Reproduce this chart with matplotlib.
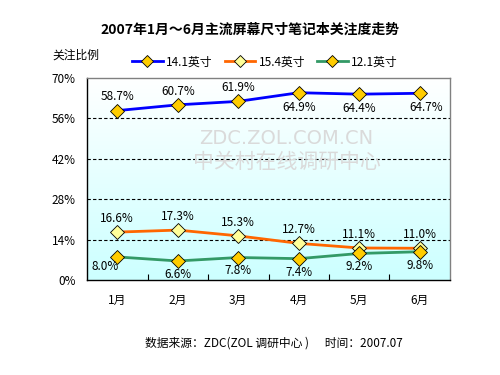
import numpy as np
import matplotlib
matplotlib.use("Agg")
import matplotlib.pyplot as plt
from matplotlib.lines import Line2D

plt.rcParams['font.family'] = ['Noto Sans CJK SC', 'DejaVu Sans']

months = ['1月', '2月', '3月', '4月', '5月', '6月']
s141 = [58.7, 60.7, 61.9, 64.9, 64.4, 64.7]
s154 = [16.6, 17.3, 15.3, 12.7, 11.1, 11.0]
s121 = [8.0, 6.6, 7.8, 7.4, 9.2, 9.8]
series_names = ['14.1英寸', '15.4英寸', '12.1英寸']
yticks = [0, 14, 28, 42, 56, 70]

fig = plt.figure(figsize=(5, 3.75), dpi=100)
fig.patch.set_facecolor('white')
ax = fig.add_axes([0.174, 0.2533, 0.726, 0.5387])

x = np.arange(len(months))
ax.set_xlim(-0.5, 5.5)
ax.set_ylim(0, 70)

# gradient background
grad = np.linspace(0, 1, 256).reshape(-1, 1)
top = np.array([1.0, 1.0, 1.0])
bot = np.array([0.80, 1.0, 1.0])
img = top[None, None, :] * (1 - grad[:, :, None]) + bot[None, None, :] * grad[:, :, None]
ax.imshow(img, extent=[0, 1, 0, 1], transform=ax.transAxes, aspect='auto', zorder=0)

for v in yticks[1:-1]:
    ax.axhline(v, color='black', lw=0.8, ls=(0, (3, 2)), zorder=1)

# watermark
ax.text(0.55, 0.70, 'ZDC.ZOL.COM.CN', transform=ax.transAxes, ha='center', va='center',
        fontsize=14, color='#dadada', zorder=1, family=['DejaVu Sans'])
ax.text(0.55, 0.585, '中关村在线调研中心', transform=ax.transAxes, ha='center', va='center',
        fontsize=15, color='#dadada', zorder=1)

colors = ['#0000ff', '#ff6600', '#339966']
mfc = ['#ffcc00', '#ffff99', '#ffcc00']
data = [s141, s154, s121]
for d, c, f in zip(data, colors, mfc):
    ax.plot(x, d, color=c, lw=2.0, zorder=3, marker='D', markersize=7,
            markerfacecolor=f, markeredgecolor='black', markeredgewidth=0.6)

fs = 8.5
for i, v in enumerate(s141):
    if i < 3:
        ax.text(x[i], v + 2.5, f'{v:.1f}%', ha='center', va='bottom', fontsize=fs, zorder=4)
    else:
        ax.text(x[i] + (0.1 if i == 5 else 0), v - 2.8, f'{v:.1f}%', ha='center', va='top', fontsize=fs, zorder=4)
for i, v in enumerate(s154):
    ax.text(x[i], v + 2.5, f'{v:.1f}%', ha='center', va='bottom', fontsize=fs, zorder=4)
for i, v in enumerate(s121):
    dx = -0.2 if i == 0 else 0.0
    dy = -1.2 if i == 0 else -2.4
    ax.text(x[i] + dx, v + dy, f'{v:.1f}%', ha='center', va='top', fontsize=fs, zorder=4)

ax.set_yticks(yticks)
ax.set_yticklabels([f'{v}%' for v in yticks], fontsize=fs)
ax.set_xticks(x)
ax.set_xticklabels(months, fontsize=fs)
ax.tick_params(axis='x', which='major', length=0, pad=10)
ax.set_xticks(np.arange(0.5, 5.5, 1.0), minor=True)
ax.tick_params(axis='x', which='minor', direction='in', length=4, width=0.8)
ax.tick_params(axis='y', length=0, pad=8)

for s in ['left', 'bottom']:
    ax.spines[s].set_color('black')
    ax.spines[s].set_linewidth(1.0)
for s in ['top', 'right']:
    ax.spines[s].set_color('#808080')
    ax.spines[s].set_linewidth(1.0)

fig.text(0.5, 0.92, '2007年1月～6月主流屏幕尺寸笔记本关注度走势', ha='center', va='center',
         fontsize=10, fontweight='bold')
fig.text(0.104, 0.853, '关注比例', ha='left', va='center', fontsize=fs)

handles = [Line2D([0], [0], color=c, lw=2.0, marker='D', markersize=6,
                  markerfacecolor=f, markeredgecolor='black', markeredgewidth=0.6)
           for c, f in zip(colors, mfc)]
fig.legend(handles, series_names, loc='center', bbox_to_anchor=(0.53, 0.835), ncol=3,
           frameon=False, fontsize=fs, handlelength=2.6, columnspacing=1.0, handletextpad=0.3)

fig.text(0.548, 0.085, '数据来源：ZDC(ZOL 调研中心 )      时间：2007.07', ha='center', va='center',
         fontsize=8.5)

fig.savefig('out.png', dpi=100)
